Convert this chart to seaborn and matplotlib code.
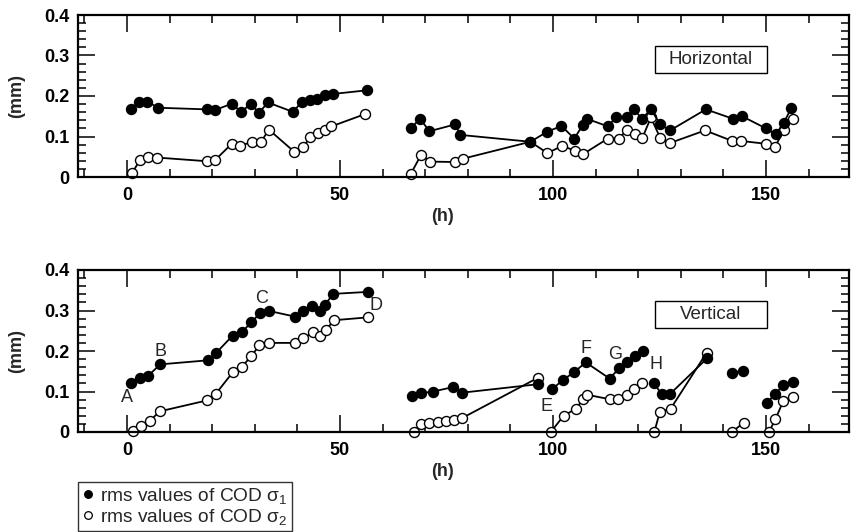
import numpy as np
import pandas as pd
import matplotlib
matplotlib.use("Agg")
import matplotlib.pyplot as plt
import seaborn as sns
from matplotlib.lines import Line2D
from matplotlib.patches import Rectangle
from matplotlib.ticker import MultipleLocator, FuncFormatter

# ---------------- data ----------------
# Horizontal panel, sigma1 (filled)
h_s1_x = [
    [1.0, 2.8, 4.8, 7.3, 18.7, 20.6, 24.6, 26.8, 29.0, 31.0, 33.1, 38.9, 41.0, 42.9, 44.7, 46.4, 48.3, 56.3],
    [66.7, 68.8, 71.0, 77.1, 78.2, 94.7, 98.7, 102.0, 105.0, 107.0, 107.9, 112.9, 114.8, 117.3, 119.0, 120.9,
     123.0, 125.2, 127.5, 135.9, 142.2, 144.4, 150.0, 152.3, 154.2, 156.0],
]
h_s1_y = [
    [0.167, 0.186, 0.186, 0.171, 0.167, 0.165, 0.181, 0.161, 0.180, 0.159, 0.184, 0.161, 0.184, 0.190, 0.192, 0.202, 0.205, 0.214],
    [0.121, 0.144, 0.113, 0.130, 0.104, 0.087, 0.112, 0.126, 0.095, 0.128, 0.144, 0.125, 0.147, 0.147, 0.167, 0.144,
     0.167, 0.130, 0.115, 0.167, 0.144, 0.150, 0.120, 0.105, 0.134, 0.171],
]
# Horizontal panel, sigma2 (open)
h_s2_x = [
    [1.2, 3.0, 4.9, 7.1, 18.7, 20.6, 24.6, 26.6, 29.4, 31.5, 33.3, 39.3, 41.4, 43.0, 44.8, 46.6, 48.0, 55.8],
    [66.6, 69.0, 71.2, 77.1, 78.8, 94.7, 98.7, 102.2, 105.1, 107.0, 112.9, 115.4, 117.3, 119.2, 121.0, 123.0,
     125.2, 127.5, 135.7, 142.1, 144.2, 150.0, 152.1, 154.2, 156.3],
]
h_s2_y = [
    [0.010, 0.041, 0.050, 0.048, 0.039, 0.041, 0.082, 0.077, 0.087, 0.087, 0.117, 0.062, 0.074, 0.099, 0.109, 0.115, 0.125, 0.155],
    [0.007, 0.054, 0.038, 0.037, 0.045, 0.087, 0.059, 0.077, 0.065, 0.056, 0.095, 0.095, 0.115, 0.105, 0.097, 0.147,
     0.096, 0.084, 0.115, 0.089, 0.089, 0.082, 0.074, 0.115, 0.144],
]
# Vertical panel, sigma1 (filled)
v_s1_x = [
    [0.95, 3.0, 5.0, 7.8, 19.0, 21.0, 24.8, 27.0, 29.2, 31.2, 33.3, 39.4, 41.4, 43.4, 45.2, 46.4, 48.4, 56.6],
    [67.0, 69.1, 71.9, 76.6, 78.6, 96.5],
    [99.7, 102.3, 105.0, 107.7, 113.3, 115.6, 117.5, 119.3, 121.1],
    [123.7, 125.5, 127.5, 136.2],
    [142.0, 144.6],
    [150.2, 152.1, 154.1, 156.3],
]
v_s1_y = [
    [0.122, 0.134, 0.139, 0.167, 0.177, 0.196, 0.238, 0.247, 0.271, 0.293, 0.299, 0.285, 0.299, 0.311, 0.299, 0.313, 0.341, 0.346],
    [0.090, 0.096, 0.100, 0.111, 0.097, 0.118],
    [0.105, 0.128, 0.148, 0.172, 0.132, 0.158, 0.172, 0.188, 0.200],
    [0.120, 0.094, 0.094, 0.182],
    [0.146, 0.151],
    [0.072, 0.093, 0.116, 0.124],
]
# Vertical panel, sigma2 (open)
v_s2_x = [
    [1.4, 3.4, 5.3, 7.7, 18.8, 20.9, 24.8, 27.0, 29.2, 31.1, 33.3, 39.4, 41.3, 43.7, 45.4, 46.7, 48.6, 56.5],
    [67.3, 69.1, 71.0, 73.0, 74.8, 76.7, 78.6, 96.5],
    [99.5, 102.5, 105.5, 107.0, 108.0, 113.3, 115.3, 117.3, 119.0, 120.8],
    [123.8, 125.1, 127.6, 136.1],
    [142.0, 144.8],
    [150.7, 152.2, 154.1, 156.4],
]
v_s2_y = [
    [0.002, 0.015, 0.027, 0.051, 0.078, 0.095, 0.147, 0.161, 0.188, 0.214, 0.220, 0.220, 0.231, 0.246, 0.237, 0.252, 0.276, 0.283],
    [0.0, 0.019, 0.023, 0.025, 0.028, 0.030, 0.034, 0.134],
    [0.0, 0.040, 0.058, 0.081, 0.092, 0.081, 0.081, 0.091, 0.107, 0.121],
    [0.0, 0.050, 0.057, 0.196],
    [0.0, 0.023],
    [0.0, 0.031, 0.077, 0.086],
]

point_labels = ["A", "B", "C", "D", "E", "F", "G", "H"]
point_label_h = [0.0, 7.9, 31.6, 58.5, 98.4, 107.7, 114.5, 124.1]
point_label_mm = [0.084, 0.198, 0.330, 0.313, 0.064, 0.205, 0.191, 0.167]

panel_titles = ["Horizontal", "Vertical"]
x_ticks = [0, 50, 100, 150]
legend_labels = ["rms values of COD σ$_1$", "rms values of COD σ$_2$"]

# ---------------- style ----------------
sns.set_style("ticks")
plt.rcParams["font.family"] = ["Liberation Sans", "DejaVu Sans"]
plt.rcParams["mathtext.fontset"] = "custom"
plt.rcParams["mathtext.rm"] = "Liberation Sans"
plt.rcParams["mathtext.it"] = "Liberation Sans:italic"


def frame(xs, ys):
    rows = []
    for s, (xx, yy) in enumerate(zip(xs, ys)):
        for a, b in zip(xx, yy):
            rows.append((s, a, b))
    return pd.DataFrame(rows, columns=["seg", "h", "mm"])


def draw(ax, xs, ys, filled):
    df = frame(xs, ys)
    sns.lineplot(data=df, x="h", y="mm", units="seg", estimator=None, sort=False,
                 color="black", lw=1.3, marker="o", markersize=7.2,
                 markerfacecolor="black" if filled else "white",
                 markeredgecolor="black", markeredgewidth=1.0,
                 ax=ax, legend=False, clip_on=False, zorder=3 if filled else 2)


fig = plt.figure(figsize=(8.51, 5.32), dpi=100)
W, H = 851, 532
left, right = 78, 849
ax_top = fig.add_axes([left / W, (H - 177) / H, (right - left) / W, 162 / H])
ax_bot = fig.add_axes([left / W, (H - 432) / H, (right - left) / W, 162 / H])

draw(ax_top, h_s2_x, h_s2_y, False)
draw(ax_top, h_s1_x, h_s1_y, True)
draw(ax_bot, v_s2_x, v_s2_y, False)
draw(ax_bot, v_s1_x, v_s1_y, True)

fmt = FuncFormatter(lambda v, p: "0" if abs(v) < 1e-9 else f"{v:.1f}")
for ax, title in zip([ax_top, ax_bot], panel_titles):
    ax.set_xlim(-11.5, 169.5)
    ax.set_ylim(0, 0.4)
    ax.set_xticks(x_ticks)
    ax.xaxis.set_minor_locator(MultipleLocator(10))
    ax.yaxis.set_major_locator(MultipleLocator(0.1))
    ax.yaxis.set_minor_locator(MultipleLocator(0.02))
    ax.yaxis.set_major_formatter(fmt)
    ax.tick_params(which="both", direction="in", top=True, right=True,
                   width=1.1, color="black", labelsize=13, labelcolor="black")
    ax.tick_params(which="major", length=12)
    ax.tick_params(which="minor", length=6)
    ax.tick_params(axis="x", which="major", pad=7)
    ax.tick_params(axis="y", which="major", pad=6)
    for lbl in ax.get_xticklabels() + ax.get_yticklabels():
        lbl.set_fontweight("bold")
    for sp in ax.spines.values():
        sp.set_linewidth(1.6)
        sp.set_color("black")
    ax.set_xlabel("(h)", fontsize=13, fontweight="bold")
    ax.set_ylabel("(mm)", fontsize=13, fontweight="bold")
    ax.xaxis.set_label_coords(0.473, -0.19)
    ax.yaxis.set_label_coords(-0.068, 0.5)
    ax.add_patch(Rectangle((0.749, 0.645), 0.144, 0.162, transform=ax.transAxes,
                           facecolor="white", edgecolor="black", lw=1.0, zorder=5))
    ax.text(0.821, 0.724, title, transform=ax.transAxes, ha="center", va="center",
            fontsize=13.5, zorder=6)
    ax.set_facecolor("white")

for lab, hx, my in zip(point_labels, point_label_h, point_label_mm):
    ax_bot.text(hx, my, lab, ha="center", va="center", fontsize=13, zorder=6)

handles = [
    Line2D([], [], ls="none", marker="o", markersize=5.5, markerfacecolor="black",
           markeredgecolor="black", markeredgewidth=0.9),
    Line2D([], [], ls="none", marker="o", markersize=5.5, markerfacecolor="white",
           markeredgecolor="black", markeredgewidth=0.9),
]
leg = fig.legend(handles, legend_labels, loc="upper left",
                 bbox_to_anchor=(left / W, 1 - 482 / H), fontsize=13.8,
                 frameon=True, fancybox=False, edgecolor="black",
                 handlelength=0.6, handletextpad=0.35, borderpad=0.2,
                 labelspacing=0.05, borderaxespad=0)
leg.get_frame().set_linewidth(1.0)

fig.savefig("out.png", dpi=100, facecolor="white")
